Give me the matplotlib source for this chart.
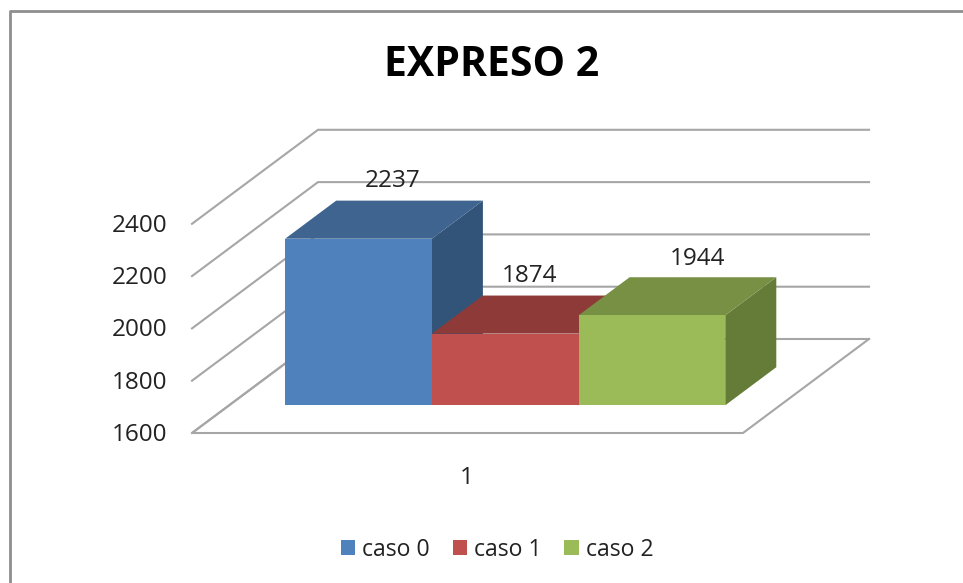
import matplotlib
matplotlib.use("Agg")
import matplotlib.pyplot as plt
from matplotlib.patches import Polygon, Patch
from matplotlib.lines import Line2D

plt.rcParams['font.family'] = ['Open Sans', 'DejaVu Sans']

# data
title = "EXPRESO 2"
series = ["caso 0", "caso 1", "caso 2"]
values = [2237, 1874, 1944]
y_ticks = [1600, 1800, 2000, 2200, 2400]
category = "1"

front_colors = ["#4F81BD", "#C0504D", "#9BBB59"]
top_colors = ["#3E648F", "#8E3A38", "#779044"]
side_colors = ["#325479", "#7A3230", "#657B38"]
text_color = "#222222"
grid_color = "#A6A6A6"
frame_color = "#8E8E8E"

# oblique projection, in pixels of the reference
W, H = 963, 583
PX_PER_UNIT = 0.2615
PX_PER_CAT = 146.7
FLOOR_Y = 433.0      # pixel row of value 1600 at the floor front
CAT0_X = 248.0       # pixel column of category coordinate 0 at the floor front
DEPTH_X = 126 / PX_PER_CAT
DEPTH_Y = 94 / PX_PER_UNIT
FLOOR_L, FLOOR_R = (192 - CAT0_X) / PX_PER_CAT, (743 - CAT0_X) / PX_PER_CAT
BAR_D0, BAR_D1 = 0.295, 0.70

fig = plt.figure(figsize=(W / 100, H / 100), dpi=100)
ax = fig.add_axes([0, 0, 1, 1])
ax.set_xlim(-CAT0_X / PX_PER_CAT, (W - CAT0_X) / PX_PER_CAT)
ax.set_ylim(y_ticks[0] + (FLOOR_Y - H) / PX_PER_UNIT, y_ticks[0] + FLOOR_Y / PX_PER_UNIT)
ax.axis("off")


def P(c, v, d=0.0):
    return (c + d * DEPTH_X, v + d * DEPTH_Y)


base = y_ticks[0]

# frame (left and top edges of the chart area)
ax.add_line(Line2D([10 / W, 10 / W, 1], [0, 1 - 10.7 / H, 1 - 10.7 / H],
                   transform=ax.transAxes, color=frame_color, lw=2.0, zorder=1))

# gridlines and floor
for t in y_ticks:
    pts = [P(FLOOR_L, t), P(FLOOR_L, t, 1), P(FLOOR_R, t, 1)]
    ax.plot(*zip(*pts), color=grid_color, lw=1.5, zorder=2, solid_joinstyle="miter")
floor = [P(FLOOR_L, base, 1), P(FLOOR_L, base), P(FLOOR_R, base), P(FLOOR_R, base, 1)]
ax.plot(*zip(*floor), color=grid_color, lw=1.5, zorder=2, solid_joinstyle="miter")

# tick labels
for t in y_ticks:
    ax.annotate(str(t), xy=P(FLOOR_L, t), xytext=(-24.5, -2), textcoords="offset pixels",
                ha="right", va="center", fontsize=17.5, color=text_color, zorder=6)

# bars
label_dx = [-16.5, -26.5, -5.5]
label_dy = [20, 20, 18]
for i, v in enumerate(values):
    c0, c1 = float(i), float(i + 1)
    z = 3 + i * 0.1
    side = [P(c1, base, BAR_D0), P(c1, v, BAR_D0), P(c1, v, BAR_D1), P(c1, base, BAR_D1)]
    top = [P(c0, v, BAR_D0), P(c1, v, BAR_D0), P(c1, v, BAR_D1), P(c0, v, BAR_D1)]
    front = [P(c0, base, BAR_D0), P(c1, base, BAR_D0), P(c1, v, BAR_D0), P(c0, v, BAR_D0)]
    ax.add_patch(Polygon(side, closed=True, fc=side_colors[i], ec="none", zorder=z))
    ax.add_patch(Polygon(top, closed=True, fc=top_colors[i], ec="none", zorder=z))
    ax.add_patch(Polygon(front, closed=True, fc=front_colors[i], ec="none", zorder=z))
    ax.annotate(str(v), xy=P(c0 + 0.5, v, BAR_D1),
                xytext=(label_dx[i], label_dy[i]), textcoords="offset pixels",
                ha="center", va="center", fontsize=17.5, color=text_color, zorder=6)

# category label
ax.text(467 / W, 1 - 478 / H, category, transform=ax.transAxes, ha="center", va="center",
        fontsize=17.5, color=text_color)

# title
ax.text(491.5 / W, 1 - 65 / H, title, transform=ax.transAxes, ha="center", va="center",
        fontsize=29.5, fontweight="bold", color="black")

# legend
handles = [Patch(fc=c, ec="none", label=s) for c, s in zip(front_colors, series)]
ax.legend(handles=handles, loc="center", bbox_to_anchor=(497 / W, 1 - 550 / H),
          bbox_transform=ax.transAxes, ncol=3, frameon=False, fontsize=16.6,
          labelcolor=text_color, handlelength=0.62, handleheight=0.62,
          handletextpad=0.3, columnspacing=1.0, borderpad=0, borderaxespad=0)

fig.savefig("out.png", dpi=100, facecolor="white")
